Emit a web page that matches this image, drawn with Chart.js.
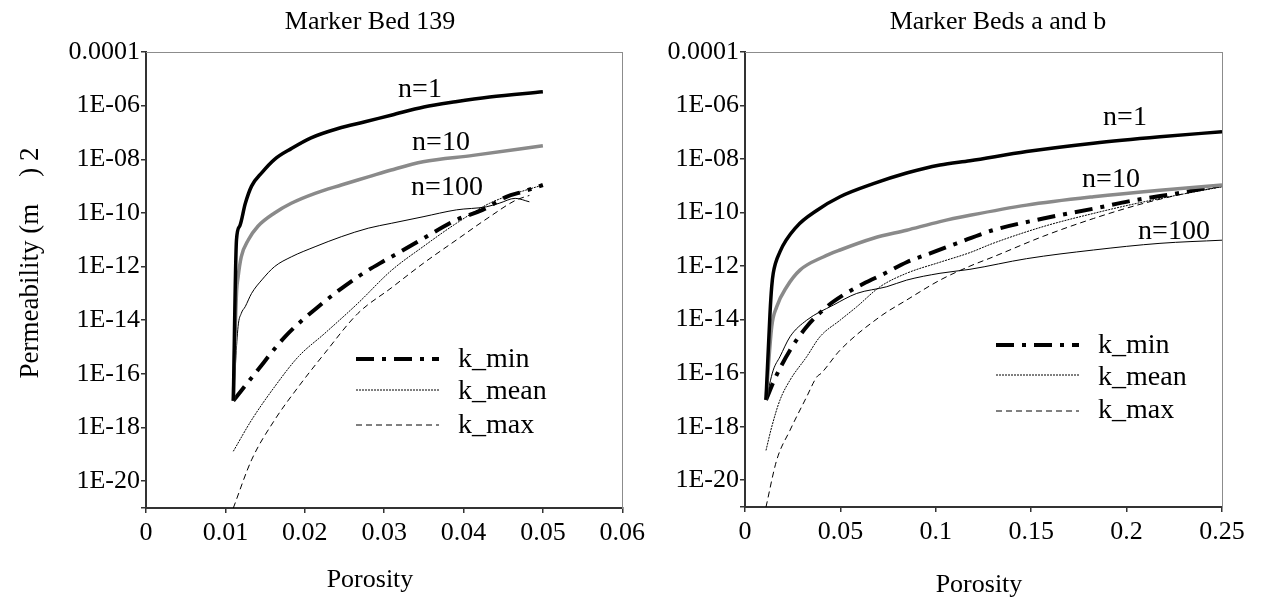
<!DOCTYPE html>
<html><head><meta charset="utf-8">
<script src="https://cdn.jsdelivr.net/npm/chart.js@4.4.1/dist/chart.umd.min.js"></script>
<style>
html,body{margin:0;padding:0;background:#fff;}
#wrap{position:relative;width:1269px;height:601px;overflow:hidden;background:#fff;}
canvas{position:absolute;top:0;}
</style></head><body>
<div id="wrap">
<canvas id="c1" width="650" height="601" style="left:0"></canvas>
<canvas id="c2" width="619" height="601" style="left:650px"></canvas>
</div>
<script>
// ---------- axis ticks ----------
const yTickValues = [1e-21, 1e-20, 1e-18, 1e-16, 1e-14, 1e-12, 1e-10, 1e-8, 1e-6, 1e-4];
const yTickLabels = ['', '1E-20', '1E-18', '1E-16', '1E-14', '1E-12', '1E-10', '1E-08', '1E-06', '0.0001'];
const leftXTicks = [0, 0.01, 0.02, 0.03, 0.04, 0.05, 0.06];
const leftXTickLabels = ['0', '0.01', '0.02', '0.03', '0.04', '0.05', '0.06'];
const rightXTicks = [0, 0.05, 0.1, 0.15, 0.2, 0.25];
const rightXTickLabels = ['0', '0.05', '0.1', '0.15', '0.2', '0.25'];

// ---------- Marker Bed 139 ----------
const mb139_n1_x = [0.011, 0.0114, 0.0118, 0.0125, 0.0133, 0.0146, 0.0162, 0.0183, 0.0208, 0.0242, 0.0276, 0.031, 0.035, 0.039, 0.0433, 0.05];
const mb139_n1_k = [1e-17, 1e-11, 3.2e-11, 2.2e-10, 1e-9, 3.2e-9, 1e-8, 2.5e-8, 6.3e-8, 1.4e-7, 2.5e-7, 4.5e-7, 8.9e-7, 1.4e-6, 2.1e-6, 3.3e-6];
const mb139_n10_x = [0.011, 0.0114, 0.0116, 0.012, 0.0129, 0.0141, 0.0162, 0.0183, 0.0213, 0.0246, 0.028, 0.0309, 0.0349, 0.0412, 0.05];
const mb139_n10_k = [1e-17, 1e-13, 4e-13, 2.3e-12, 1e-11, 3.2e-11, 1e-10, 2.3e-10, 5.4e-10, 1.1e-9, 2.2e-9, 4e-9, 8.1e-9, 1.4e-8, 3.2e-8];
const mb139_n100_x = [0.011, 0.0116, 0.012, 0.0125, 0.0133, 0.0146, 0.0162, 0.0183, 0.0213, 0.0246, 0.028, 0.0309, 0.0349, 0.0391, 0.0429, 0.0445, 0.0465, 0.0483];
const mb139_n100_k = [1e-17, 5.8e-15, 1.8e-14, 3.2e-14, 1e-13, 3.2e-13, 1e-12, 2.3e-12, 5.5e-12, 1.3e-11, 2.7e-11, 4.1e-11, 7.2e-11, 1.3e-10, 1.7e-10, 2.3e-10, 3.5e-10, 2.6e-10];
const mb139_kmin_x = [0.011, 0.0137, 0.0175, 0.0217, 0.0267, 0.0301, 0.032, 0.0349, 0.0391, 0.0424, 0.0454, 0.0475, 0.05];
const mb139_kmin_k = [1e-17, 1e-16, 2.4e-15, 3.2e-14, 4.2e-13, 1.7e-12, 3.5e-12, 1.1e-11, 5.5e-11, 1.3e-10, 4e-10, 6.2e-10, 1.1e-9];
const mb139_kmean_x = [0.011, 0.0133, 0.0162, 0.0192, 0.0225, 0.0267, 0.0309, 0.0349, 0.0391, 0.0433, 0.0466, 0.05];
const mb139_kmean_k = [1.3e-19, 1.9e-18, 3.3e-17, 4.4e-16, 3.2e-15, 4.3e-14, 7.1e-13, 5.5e-12, 4.1e-11, 2.3e-10, 5.4e-10, 1.1e-9];
const mb139_kmax_x = [0.011, 0.0133, 0.0162, 0.0192, 0.0225, 0.0267, 0.0309, 0.0349, 0.0391, 0.0433, 0.0466, 0.0483];
const mb139_kmax_k = [1e-21, 6.2e-20, 1.9e-18, 3.3e-17, 5.8e-16, 1.8e-14, 1.6e-13, 1.3e-12, 9.8e-12, 7.2e-11, 3e-10, 4.5e-10];

// ---------- Marker Beds a and b ----------
const mbab_n1_x = [0.011, 0.0131, 0.014, 0.0148, 0.0183, 0.0271, 0.0376, 0.0498, 0.0673, 0.0847, 0.1022, 0.1179, 0.1476, 0.1826, 0.2175, 0.25];
const mbab_n1_k = [1e-17, 1.7e-14, 1.7e-13, 5.4e-13, 3.4e-12, 3e-11, 1.2e-10, 3.9e-10, 1.2e-9, 3e-9, 6e-9, 8.7e-9, 1.9e-8, 3.9e-8, 6.8e-8, 1.05e-7];
const mbab_n10_x = [0.011, 0.014, 0.0166, 0.0219, 0.0288, 0.041, 0.0498, 0.0673, 0.0847, 0.1022, 0.1179, 0.1476, 0.1826, 0.2175, 0.25];
const mbab_n10_k = [1e-17, 5.4e-15, 3e-14, 1.7e-13, 7.1e-13, 2.2e-12, 4e-12, 1.1e-11, 2.2e-11, 4.6e-11, 7.9e-11, 1.9e-10, 3.9e-10, 6.9e-10, 1.07e-9];
const mbab_n100_x = [0.011, 0.0148, 0.0183, 0.0236, 0.0323, 0.0463, 0.0585, 0.0743, 0.0847, 0.1022, 0.1179, 0.1476, 0.1826, 0.2175, 0.25];
const mbab_n100_k = [1e-17, 1.3e-16, 4.1e-16, 2.3e-15, 9.5e-15, 3.5e-14, 9.5e-14, 1.7e-13, 3e-13, 5.4e-13, 7.6e-13, 1.9e-12, 4e-12, 7.1e-12, 9.3e-12];
const mbab_kmin_x = [0.011, 0.0157, 0.0236, 0.0323, 0.0428, 0.0515, 0.062, 0.0734, 0.0847, 0.097, 0.111, 0.13, 0.1563, 0.1826, 0.2053, 0.2263, 0.25];
const mbab_kmin_k = [1e-17, 6.3e-17, 7.2e-16, 5.4e-15, 3e-14, 8.3e-14, 2.2e-13, 5.4e-13, 1.4e-12, 3e-12, 7.1e-12, 2.2e-11, 6e-11, 1.4e-10, 3e-10, 5.2e-10, 1.07e-9];
const mbab_kmean_x = [0.011, 0.014, 0.0183, 0.0236, 0.0323, 0.0393, 0.0498, 0.0585, 0.0708, 0.0847, 0.1022, 0.1179, 0.13, 0.1563, 0.1826, 0.2088, 0.25];
const mbab_kmean_k = [1.3e-19, 9.8e-19, 9.8e-18, 5.5e-17, 4.1e-16, 2.3e-15, 9.5e-15, 3e-14, 1.7e-13, 5.4e-13, 1.4e-12, 3.2e-12, 7.1e-12, 3e-11, 9.3e-11, 2.5e-10, 9.3e-10];
const mbab_kmax_x = [0.011, 0.0166, 0.0236, 0.0323, 0.0376, 0.04, 0.0498, 0.0708, 0.0847, 0.1022, 0.1179, 0.13, 0.1563, 0.1826, 0.2088, 0.235, 0.25];
const mbab_kmax_k = [1e-21, 5.6e-20, 7.4e-19, 1.3e-17, 7.2e-17, 1e-16, 7.2e-16, 1.3e-14, 5.4e-14, 3e-13, 1e-12, 2.2e-12, 1.3e-11, 6e-11, 2.2e-10, 6e-10, 9.3e-10];

const legendLabels = ['k_min', 'k_mean', 'k_max'];

// ---------- helpers ----------
const FONT = '"Liberation Serif", "Times New Roman", serif';
const zip = (xs, ks) => xs.map((x, i) => ({x: x, y: ks[i]}));

function series(label, xs, ks, style) {
  return Object.assign({
    label: label, data: zip(xs, ks), xAxisID: 'x', yAxisID: 'y',
    borderColor: '#000', backgroundColor: '#000', borderWidth: 1,
    pointRadius: 0, pointHoverRadius: 0, fill: false,
    cubicInterpolationMode: 'monotone', borderCapStyle: 'butt', borderJoinStyle: 'round'
  }, style);
}
const sN1 = {borderWidth: 3.5, borderColor: '#000'};
const sN10 = {borderWidth: 3.5, borderColor: '#8a8a8a'};
const sN100 = {borderWidth: 1, borderColor: '#000'};
const sKmin = {borderWidth: 4, borderColor: '#000', borderDash: [18, 8, 4, 8]};
const sKmean = {borderWidth: 1, borderColor: '#000', borderDash: [2, 1]};
const sKmax = {borderWidth: 1, borderColor: '#000', borderDash: [6, 4]};

const panelText = {
  id: 'panelText',
  afterDraw(chart, args, opts) {
    const ctx = chart.ctx;
    ctx.save();
    ctx.fillStyle = '#000';
    (opts.texts || []).forEach(t => {
      ctx.save();
      ctx.font = t.font;
      ctx.textAlign = 'center';
      ctx.textBaseline = 'alphabetic';
      ctx.translate(t.x, t.y);
      if (t.rotate) ctx.rotate(t.rotate);
      ctx.fillText(t.text, 0, 0);
      ctx.restore();
    });
    const lg = opts.legend;
    if (lg) {
      lg.items.forEach((label, i) => {
        const ds = chart.data.datasets.find(d => d.label === label);
        if (!ds) return;
        ctx.save();
        ctx.beginPath();
        ctx.setLineDash(ds.borderDash || []);
        ctx.lineWidth = ds.borderWidth;
        ctx.strokeStyle = ds.borderColor;
        ctx.lineCap = 'butt';
        ctx.moveTo(lg.x1, lg.lineY[i]);
        ctx.lineTo(lg.x2, lg.lineY[i]);
        ctx.stroke();
        ctx.restore();
        ctx.font = lg.font;
        ctx.textAlign = 'left';
        ctx.textBaseline = 'alphabetic';
        ctx.fillText(label, lg.textX, lg.textY[i]);
      });
    }
    ctx.restore();
  }
};

function makeChart(canvasId, p) {
  const axisColor = '#333';
  const frameColor = '#8c8c8c';
  return new Chart(document.getElementById(canvasId), {
    type: 'line',
    data: {datasets: p.datasets},
    plugins: [panelText],
    options: {
      responsive: false, animation: false, devicePixelRatio: 1,
      layout: {padding: 0},
      events: [],
      plugins: {
        legend: {display: false}, title: {display: false}, tooltip: {enabled: false},
        panelText: {texts: p.texts, legend: p.legend}
      },
      scales: {
        x: {
          type: 'linear', position: 'bottom', min: p.xTicks[0], max: p.xTicks[p.xTicks.length - 1],
          afterBuildTicks: s => { s.ticks = p.xTicks.map(v => ({value: v})); },
          afterFit: s => { s.height = p.bottomH; },
          ticks: {autoSkip: false, maxRotation: 0, padding: p.xTickPad, color: '#000',
                  font: {family: FONT, size: 26},
                  callback: (v, i) => p.xTickLabels[i]},
          grid: {drawOnChartArea: false, drawTicks: true, tickLength: 5, color: axisColor, lineWidth: 1.5},
          border: {display: true, color: axisColor, width: 2}
        },
        y: {
          type: 'logarithmic', position: 'left', min: yTickValues[0], max: yTickValues[yTickValues.length - 1],
          afterBuildTicks: s => { s.ticks = yTickValues.map(v => ({value: v})); },
          afterFit: s => { s.width = p.leftW; },
          ticks: {autoSkip: false, padding: 1, color: '#000',
                  font: {family: FONT, size: 26},
                  callback: (v) => yTickLabels[yTickValues.indexOf(v)]},
          grid: {drawOnChartArea: false, drawTicks: true, tickLength: 5, color: axisColor, lineWidth: 1.5},
          border: {display: true, color: axisColor, width: 2}
        },
        xTop: {
          type: 'linear', position: 'top', min: 0, max: 1,
          afterFit: s => { s.height = p.topH; },
          ticks: {display: false},
          grid: {display: false, drawTicks: false},
          border: {display: true, color: frameColor, width: 1}
        },
        yRight: {
          type: 'linear', position: 'right', min: 0, max: 1,
          afterFit: s => { s.width = p.rightW; },
          ticks: {display: false},
          grid: {display: false, drawTicks: false},
          border: {display: true, color: frameColor, width: 1}
        }
      }
    }
  });
}

const F_TITLE = '26px ' + FONT;
const F_NOTE = '28px ' + FONT;

makeChart('c1', {
  xTicks: leftXTicks, xTickLabels: leftXTickLabels,
  leftW: 146, rightW: 27, topH: 52, bottomH: 93, xTickPad: 5,
  datasets: [
    series('n=1', mb139_n1_x, mb139_n1_k, sN1),
    series('n=10', mb139_n10_x, mb139_n10_k, sN10),
    series('n=100', mb139_n100_x, mb139_n100_k, sN100),
    series('k_min', mb139_kmin_x, mb139_kmin_k, sKmin),
    series('k_mean', mb139_kmean_x, mb139_kmean_k, sKmean),
    series('k_max', mb139_kmax_x, mb139_kmax_k, sKmax)
  ],
  texts: [
    {text: 'Marker Bed 139', x: 370, y: 29, font: F_TITLE},
    {text: 'Porosity', x: 370, y: 587, font: F_TITLE},
    {text: 'Permeability (m    ) 2', x: 38, y: 263, rotate: -Math.PI / 2, font: '27px ' + FONT},
    {text: 'n=1', x: 420, y: 97, font: F_NOTE},
    {text: 'n=10', x: 441, y: 150, font: F_NOTE},
    {text: 'n=100', x: 447, y: 195, font: F_NOTE}
  ],
  legend: {items: legendLabels, x1: 356, x2: 439, textX: 458,
           lineY: [359, 390, 425], textY: [367, 399, 433], font: F_NOTE}
});

makeChart('c2', {
  xTicks: rightXTicks, xTickLabels: rightXTickLabels,
  leftW: 95, rightW: 47, topH: 52, bottomH: 94, xTickPad: 5,
  datasets: [
    series('n=1', mbab_n1_x, mbab_n1_k, sN1),
    series('n=10', mbab_n10_x, mbab_n10_k, sN10),
    series('n=100', mbab_n100_x, mbab_n100_k, sN100),
    series('k_min', mbab_kmin_x, mbab_kmin_k, sKmin),
    series('k_mean', mbab_kmean_x, mbab_kmean_k, sKmean),
    series('k_max', mbab_kmax_x, mbab_kmax_k, sKmax)
  ],
  texts: [
    {text: 'Marker Beds a and b', x: 348, y: 29, font: F_TITLE},
    {text: 'Porosity', x: 329, y: 592, font: F_TITLE},
    {text: 'n=1', x: 475, y: 125, font: F_NOTE},
    {text: 'n=10', x: 461, y: 187, font: F_NOTE},
    {text: 'n=100', x: 524, y: 239, font: F_NOTE}
  ],
  legend: {items: legendLabels, x1: 346, x2: 429, textX: 448,
           lineY: [345, 375, 411], textY: [353, 385, 418], font: F_NOTE}
});
</script>
</body></html>
